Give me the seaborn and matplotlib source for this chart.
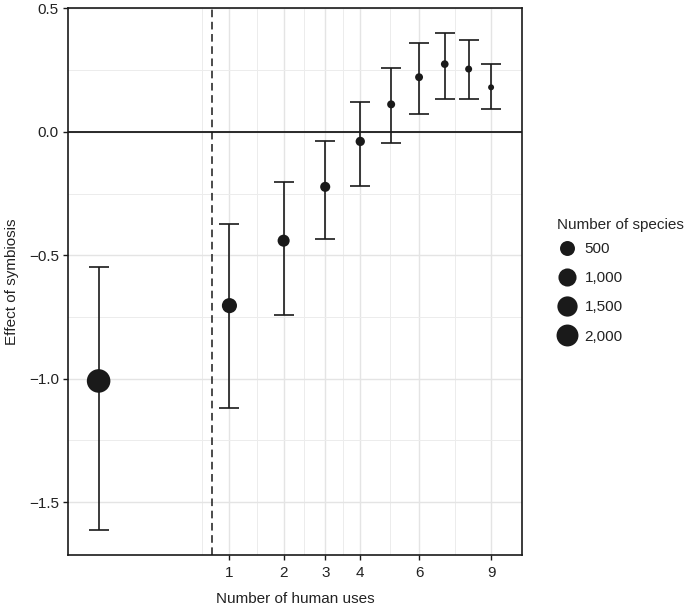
import numpy as np
import pandas as pd
import matplotlib
matplotlib.use("Agg")
import matplotlib.pyplot as plt
from matplotlib.lines import Line2D
import seaborn as sns

# ---- data ----
uses = [0, 1, 2, 3, 4, 5, 6, 7, 8, 9]
effect = [-1.009, -0.704, -0.441, -0.223, -0.039, 0.111, 0.221, 0.274, 0.254, 0.180]
lower = [-1.613, -1.120, -0.741, -0.436, -0.220, -0.047, 0.070, 0.131, 0.134, 0.093]
upper = [-0.547, -0.374, -0.204, -0.036, 0.119, 0.257, 0.359, 0.402, 0.371, 0.274]
n_species = [2600, 520, 230, 120, 90, 52, 50, 45, 32, 18]
legend_sizes = [500, 1000, 1500, 2000]
legend_labels = ["500", "1,000", "1,500", "2,000"]
x_ticks = [1, 2, 3, 4, 6, 9]
y_ticks = [-1.5, -1.0, -0.5, 0.0, 0.5]
y_minor = [-1.25, -0.75, -0.25, 0.25]
ref_x = 0.75

df = pd.DataFrame({"uses": uses, "effect": effect, "lower": lower,
                   "upper": upper, "n": n_species})

sns.set_theme(style="white")
plt.rcParams["font.family"] = ["Liberation Sans", "DejaVu Sans"]

FS = 11
DPI = 100
fig = plt.figure(figsize=(6.85, 6.05), dpi=DPI)
ax = fig.add_axes([68 / 685, 1 - 555.3 / 605, (521.7 - 68) / 685, (555.3 - 8.3) / 605])

# sqrt scale for x (signed so the expanded limit can go below zero)
def fwd(x):
    x = np.asarray(x, dtype=float)
    return np.sign(x) * np.sqrt(np.abs(x))

def inv(y):
    y = np.asarray(y, dtype=float)
    return np.sign(y) * y ** 2

ax.set_xscale("function", functions=(fwd, inv))
ax.set_xlim(inv(-0.234), inv(3.234))
ax.set_ylim(-1.715, 0.5)

# size mapping: diameter (px) as power of species count
def area_pt2(n):
    d_px = 2.69 * np.power(np.asarray(n, dtype=float), 0.276)
    return (d_px * 72 / DPI) ** 2

size_map = {v: float(area_pt2(v)) for v in df["n"].unique()}

# grid
sq = np.sqrt(x_ticks)
minor_sq = [sq[0] - (sq[1] - sq[0]) / 2] + [(a + b) / 2 for a, b in zip(sq[:-1], sq[1:])]
x_minor = [float(inv(v)) for v in minor_sq]
ax.set_xticks(x_ticks)
ax.set_xticklabels([str(t) for t in x_ticks])
ax.set_xticks(x_minor, minor=True)
ax.set_yticks(y_ticks)
ax.set_yticklabels([f"{t:.1f}".replace("-", "\u2212") for t in y_ticks])
ax.set_yticks(y_minor, minor=True)
ax.grid(which="major", color="#e4e4e4", linewidth=1.0)
ax.grid(which="minor", color="#ececec", linewidth=0.7)
ax.set_axisbelow(True)

ax.axhline(0, color="#1a1a1a", linewidth=1.3, zorder=2)
ax.axvline(ref_x, color="#1a1a1a", linewidth=1.1, linestyle=(0, (5, 3)), zorder=2)

err = np.array([df["effect"] - df["lower"], df["upper"] - df["effect"]])
ax.errorbar(df["uses"], df["effect"], yerr=err, fmt="none", ecolor="#1a1a1a",
            elinewidth=1.2, capsize=7.2, capthick=1.2, zorder=3)

sns.scatterplot(data=df, x="uses", y="effect", size="n", sizes=size_map,
                color="#1a1a1a", edgecolor="none", linewidth=0, legend=False,
                ax=ax, zorder=4)

for s in ax.spines.values():
    s.set_visible(True)
    s.set_color("#1a1a1a")
    s.set_linewidth(1.2)

ax.tick_params(axis="both", which="major", direction="out", length=3.5, width=1,
               color="#1a1a1a", labelsize=FS, labelcolor="#222222", pad=3,
               bottom=True, left=True)
ax.tick_params(axis="x", which="major", pad=4.5)
ax.tick_params(axis="both", which="minor", length=0)

ax.set_xlabel("Number of human uses", fontsize=FS, color="#222222", labelpad=8)
ax.set_ylabel("Effect of symbiosis", fontsize=FS, color="#222222", labelpad=7)

handles = [Line2D([], [], linestyle="none", marker="o", color="#1a1a1a",
                  markeredgewidth=0, markersize=np.sqrt(area_pt2(v)))
           for v in legend_sizes]
leg = fig.legend(handles, legend_labels, title="Number of species",
                 loc="upper left", bbox_to_anchor=(557 / 685, 1 - 217.5 / 605),
                 frameon=False, fontsize=FS, title_fontsize=FS,
                 labelspacing=1.0, handletextpad=0.45, borderaxespad=0,
                 borderpad=0, handlelength=1.35)
leg._legend_box.align = "left"
leg._legend_box.sep = 7.5
for t in leg.get_texts():
    t.set_color("#222222")

fig.savefig("out.png", dpi=DPI)
